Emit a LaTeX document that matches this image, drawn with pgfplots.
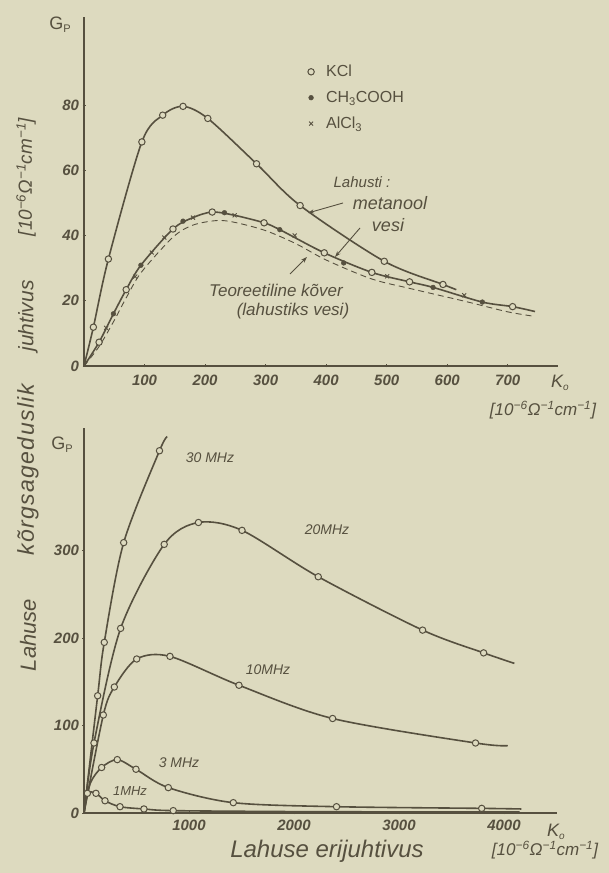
\documentclass[border=0pt]{standalone}
\usepackage{fontspec}
\setmainfont{Liberation Sans}
\usepackage{pgfplots}
\pgfplotsset{compat=1.18}
\usetikzlibrary{arrows.meta}

\definecolor{bg}{RGB}{221,218,191}
\definecolor{ink}{RGB}{86,80,63}

\newcommand{\fs}[1]{\fontsize{#1}{#1}\selectfont}
\newcommand{\unit}{[10\textsuperscript{−6}Ω\textsuperscript{−1}cm\textsuperscript{−1}]}
\newcommand{\Ko}{K\raisebox{-0.25ex}{\fs{10}o}}
\newcommand{\Gp}{G\raisebox{-0.35ex}{\fs{11}P}}

\pgfplotsset{
  papir/.style={
    scale only axis, clip=false,
    axis x line=bottom, axis y line=left,
    axis line style={ink, line width=1.1pt, -},
    tick style={ink, line width=0.8pt},
    major tick length=3pt,
    ticklabel style={font=\fs{15}\bfseries\itshape, text=ink},
    /pgf/number format/assume math mode=true,
    /pgf/number format/set thousands separator={},
  },
  kurv/.style={ink, line width=1.6pt, smooth, no marks, forget plot},
  ring/.style={only marks, mark=*, mark size=3.2pt, mark options={fill=bg, draw=ink, line width=1pt}},
  punkt/.style={only marks, mark=*, mark size=2.4pt, mark options={fill=ink, draw=ink}},
  rist/.style={only marks, mark=x, mark size=2.8pt, mark options={draw=ink, line width=0.9pt}},
}

\begin{document}
\begin{tikzpicture}[x=1pt, y=1pt]
\fill[bg] (0,0) rectangle (609,873);

% ---- upper plot: G_p vs K_o (0..700)
\begin{axis}[papir, name=ylemine,
    at={(84pt,507pt)}, anchor=south west,
    width=474pt, height=349pt,
    xmin=0, xmax=783, ymin=0, ymax=107,
    xtick={100,200,...,700}, ytick={0,20,...,80},
    xticklabel style={yshift=-4pt},
    legend style={at={(0.466,0.868)}, anchor=north west, draw=none, fill=none,
      font=\fs{16}, text=ink, row sep=9pt, inner sep=0pt},
    legend cell align=left,
    legend image code/.code={\path[draw=none] (0pt,0pt) -- (19pt,0pt); \draw[#1] plot coordinates {(6pt,0pt)};},
]
% solvent: methanol
\addplot[kurv] coordinates {(0,0)(15.5,11.9)(40.3,32.8)(95.6,68.7)(130,76.9)(163.6,79.6)(204.5,75.9)(285,62)(357,49.2)(496,32.1)(593,25)(615,23.4)};
% solvent: water
\addplot[kurv] coordinates {(0,0)(24.9,7.3)(48.6,16)(69.7,23.4)(94,30.9)(147,42)(180,45.5)(211.8,47.2)(248.8,46.2)(297.4,43.9)(323.4,41.8)(396.9,34.7)(475.5,28.7)(537.8,25.8)(576.6,24.1)(658,19.6)(708,18.2)(745,16.7)};
% theoretical curve
\addplot[ink, line width=0.9pt, dash pattern=on 6pt off 4pt, smooth, no marks, forget plot] coordinates {(0,0)(25,6)(50,14)(70,21)(95,28.8)(147,39.5)(180,43.2)(220,44.6)(250,44)(300,41.5)(350,37.5)(400,32.5)(475,26.7)(540,23.7)(630,19.8)(700,16.6)(745,15.2)};

\addplot[ring] coordinates {(15.5,11.9)(40.3,32.8)(95.6,68.7)(130,76.9)(163.6,79.6)(204.5,75.9)(285,62)(357,49.2)(496,32.1)(593,25)};
\addlegendentry{KCl}
\addplot[punkt] coordinates {(48.6,16)(94,30.9)(163.6,44.4)(232,47)(323.4,41.8)(429,31.6)(576.6,24.1)(658,19.6)};
\addlegendentry{CH\textsubscript{3}COOH}
\addplot[rist] coordinates {(36.5,11.7)(84.6,27.4)(112,34.8)(132.7,39.4)(180,45.5)(248.8,46.2)(348,40)(500.8,27.5)(628,21.7)};
\addlegendentry{AlCl\textsubscript{3}}
\addplot[ring, forget plot] coordinates {(24.9,7.3)(69.7,23.4)(147,42)(211.8,47.2)(297.4,43.9)(396.9,34.7)(475.5,28.7)(537.8,25.8)(708,18.2)};
\end{axis}

% ---- lower plot: frequencies
\begin{axis}[papir, name=alumine,
    at={(84pt,60pt)}, anchor=south west,
    width=473pt, height=385pt,
    xmin=0, xmax=4505, ymin=0, ymax=440,
    xtick={1000,2000,3000,4000}, ytick={0,100,200,300},
    xticklabel style={yshift=-2pt},
]
% 30 MHz
\addplot[kurv] coordinates {(0,0)(130,134)(193,195)(378,309)(719,414)(793,430)};
\addplot[ring] coordinates {(130,134)(193,195)(378,309)(719,414)};
% 20 MHz
\addplot[kurv] coordinates {(0,0)(95,80)(349,211)(764,307)(1090,332)(1505,323)(2231,270)(3225,209)(3806,183)(4099,171)};
\addplot[ring] coordinates {(95,80)(349,211)(764,307)(1090,332)(1505,323)(2231,270)(3225,209)(3806,183)};
% 10 MHz
\addplot[kurv] coordinates {(0,0)(184,112)(289,144)(502,176)(819,179)(1476,146)(2368,108)(3729,80)(4036,77)};
\addplot[ring] coordinates {(184,112)(289,144)(502,176)(819,179)(1476,146)(2368,108)(3729,80)};
% 3 MHz
\addplot[kurv] coordinates {(0,0)(60,34)(168,52)(317,61)(495,50)(803,29)(1422,11.8)(2405,7.2)(3788,5.3)(4166,4.6)};
\addplot[ring] coordinates {(168,52)(317,61)(495,50)(803,29)(1422,11.8)(2405,7.2)(3788,5.3)};
% 1 MHz
\addplot[kurv] coordinates {(0,0)(32,22.5)(114,22.5)(200,14)(343,7.2)(571,4.6)(850,2.7)(2000,1.6)(3000,1.3)(4150,1.1)};
\addplot[ring] coordinates {(32,22.5)(114,22.5)(200,14)(343,7.2)(571,4.6)(850,2.7)};
\end{axis}

% ---- texts
\begin{scope}[every node/.style={text=ink}]
\node[font=\fs{18}] at (60,848) {\Gp};
\node[font=\fs{15}\itshape] at (362,691) {Lahusti :};
\node[font=\fs{18}\itshape] at (390,670) {metanool};
\node[font=\fs{18}\itshape] at (388,648) {vesi};
\node[font=\fs{17}\itshape] at (276,583) {Teoreetiline kõver};
\node[font=\fs{17}\itshape] at (293,562) {(lahustiks vesi)};
\node[font=\fs{18}\itshape] at (560,490) {\Ko};
\node[font=\fs{17}\itshape] at (543,463) {\unit};

\node[font=\fs{18}] at (62,428) {\Gp};
\node[font=\fs{14}\itshape] at (210,415) {30 MHz};
\node[font=\fs{14}\itshape] at (327,343) {20MHz};
\node[font=\fs{14}\itshape] at (268,203) {10MHz};
\node[font=\fs{14}\itshape] at (179,110) {3 MHz};
\node[font=\fs{13}\itshape] at (130,82) {1MHz};
\node[font=\fs{18}\itshape] at (556,41) {\Ko};
\node[font=\fs{17}\itshape] at (545,23) {\unit};
\node[font=\fs{24}\itshape] at (327,22) {Lahuse erijuhtivus};

\node[font=\fs{19}\itshape, rotate=90] at (26,696) {\unit};
\node[font=\fs{21}\itshape, rotate=90] at (28,557) {juhtivus};
\node[font=\fs{23}\itshape\addfontfeature{LetterSpace=6}, rotate=90] at (28,403) {kõrgsageduslik};
\node[font=\fs{22}\itshape, rotate=90] at (28,238) {Lahuse};
\end{scope}

\draw[ink, line width=0.9pt, -{Stealth[length=6pt,width=4pt]}] (343,670) -- (308,660);
\draw[ink, line width=0.9pt, -{Stealth[length=6pt,width=4pt]}] (360,645) -- (335,616);
\draw[ink, line width=0.9pt, -{Stealth[length=6pt,width=4pt]}] (290,599) -- (307,616);
\end{tikzpicture}
\end{document}
